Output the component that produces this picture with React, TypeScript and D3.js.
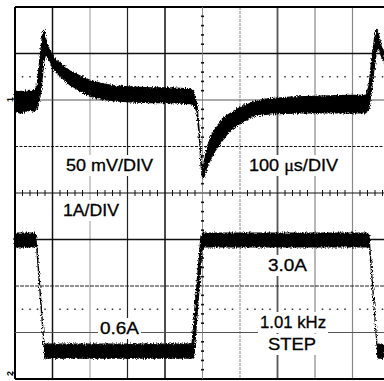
import React from "react";
import * as d3 from "d3";

const W = 384;
const H = 381;

// Time base: 100 µs per division, 10 divisions across the graticule
const timeTicksUs = d3.range(0, 1001, 100);
// Vertical graticule: 8 divisions
const vertDivs = d3.range(0, 9);

// Channel 1: output voltage deviation (AC), 50 mV/div — upper and lower edges of the noisy trace [µs, mV]
const vUpper: [number, number][] = [
  [0, 7.5], [10, 8.8], [20, 7.9], [27, 8.6], [38, 9.2], [51, 8.6], [59, 14], [67, 46], [72, 65], [77, 75],
  [83, 63], [88, 56], [99, 47], [109, 42], [125, 37], [147, 30], [173, 25], [200, 20],
  [227, 17], [267, 14], [307, 13], [360, 12], [413, 12], [467, 11], [477, 7.5],
  [485, -5], [491, -33], [496, -66], [500, -80], [504, -69], [512, -52], [525, -38],
  [541, -28], [560, -19], [587, -12], [627, -4], [667, 0], [733, 2], [813, 3],
  [893, 4], [936, 4], [944, 14], [952, 45], [960, 68], [965, 75], [971, 67],
  [976, 58], [984, 51],
];
const vLower: [number, number][] = [
  [0, -13], [12, -15], [27, -14], [40, -12], [51, -13], [59, -11], [67, 3], [72, 20], [77, 42],
  [83, 49], [88, 44], [99, 35], [109, 29], [125, 23], [147, 15], [173, 9], [200, 3],
  [227, 0], [267, -2], [307, -3], [360, -4], [413, -4], [467, -5], [477, -6],
  [485, -14], [491, -39], [496, -71], [500, -85], [504, -84], [515, -70], [533, -56],
  [552, -45], [573, -34], [600, -26], [640, -18], [680, -16], [760, -15], [867, -15],
  [936, -15], [944, -10], [952, 15], [960, 40], [965, 53], [971, 55], [976, 47],
  [984, 40],
];

// Channel 2: load current, 1 A/div — upper and lower edges of the trace [µs, A]
const iUpper: [number, number][] = [
  [0, 3.14], [53, 3.14], [56, 3.03], [77, 0.73], [83, 0.75], [472, 0.75],
  [496, 3.08], [501, 3.14], [941, 3.14], [944, 3.08], [965, 0.73], [971, 0.75], [984, 0.75],
];
const iLower: [number, number][] = [
  [0, 2.84], [57, 2.84], [59, 2.78], [80, 0.45], [472, 0.45], [477, 0.49],
  [499, 2.8], [501, 2.84], [944, 2.84], [946, 2.78], [968, 0.45], [984, 0.45],
];

const ch1RefMv = 0;
const ch2RefA = 0;

// Annotation texts
const voltScale = "50 mV/DIV";
const currentScale = "1A/DIV";
const timeScalePrefix = "100 ";
const timeScaleUnit = "μ";
const timeScaleSuffix = "s/DIV";
const highLevel = "3.0A";
const lowLevel = "0.6A";
const stepFreq = "1.01 kHz";
const stepWord = "STEP";

const x = d3.scaleLinear().domain([0, 1000]).range([15, 390]);
const yDiv = d3.scaleLinear().domain([0, 8]).range([7, 379]);
const yV = d3.scaleLinear().domain([0, 50]).range([99, 52.5]);
const yI = d3.scaleLinear().domain([0, 1]).range([379, 332.5]);

const vGridStyle = [
  { stroke: "#000", w: 2, dash: "" },
  { stroke: "#111", w: 1.5, dash: "" },
  { stroke: "#999", w: 1, dash: "" },
  { stroke: "#222", w: 1.2, dash: "" },
  { stroke: "#111", w: 1.5, dash: "" },
  null,
  { stroke: "#888", w: 1, dash: "3 1" },
  { stroke: "#555", w: 1.8, dash: "" },
  { stroke: "#888", w: 1.2, dash: "" },
  { stroke: "#888", w: 1.2, dash: "" },
  { stroke: "#000", w: 2, dash: "" },
];
const hGridStyle = [
  { stroke: "#000", w: 2, dash: "" },
  { stroke: "#111", w: 1.5, dash: "" },
  { stroke: "#555", w: 1, dash: "" },
  { stroke: "#111", w: 1, dash: "3 1.5" },
  { stroke: "#111", w: 1, dash: "" },
  { stroke: "#111", w: 1.5, dash: "" },
  { stroke: "#222", w: 1, dash: "4 1" },
  { stroke: "#555", w: 1, dash: "" },
  { stroke: "#000", w: 2, dash: "" },
];

function band(upper: [number, number][], lower: [number, number][], ys: d3.ScaleLinear<number, number>) {
  const line = d3
    .line<[number, number]>()
    .x((d) => x(d[0]))
    .y((d) => ys(d[1]));
  return line([...upper, ...[...lower].reverse()]) + "Z";
}

const FONT = "'Liberation Sans', Arial, Helvetica, sans-serif";

function Label({ text, left, right, base, size = 17 }: { text: React.ReactNode; left: number; right: number; base: number; size?: number }) {
  return (
    <g>
      <rect x={left - 2} y={base - size + 1} width={right - left + 4} height={size + 4} fill="#fff" />
      <text
        x={left}
        y={base}
        fontFamily={FONT}
        fontSize={size}
        textLength={right - left}
        lengthAdjust="spacingAndGlyphs"
        fill="#000"
        stroke="#000"
        strokeWidth={0.3}
      >
        {text}
      </text>
    </g>
  );
}

export default function App() {
  const minorX = d3.range(0, 1001, 20).filter((t) => t % 100 !== 0);
  const minorY = d3.range(0, 8.01, 0.2).filter((d) => Math.abs(d - Math.round(d)) > 0.01);
  const cx = x(500);
  const cy = yDiv(4);

  return (
    <svg
      width={W}
      height={H}
      viewBox={`0 0 ${W} ${H}`}
      style={{ position: "absolute", left: 0, top: 0, background: "#fff" }}
    >
      <defs>
        <filter id="grain" x="-2%" y="-20%" width="104%" height="140%">
          <feTurbulence type="fractalNoise" baseFrequency="0.9 0.6" numOctaves="1" seed="7" result="n" />
          <feDisplacementMap in="SourceGraphic" in2="n" scale="5" xChannelSelector="R" yChannelSelector="G" />
        </filter>
        <clipPath id="screen">
          <rect x={0} y={0} width={W} height={H} />
        </clipPath>
      </defs>
      <rect x={0} y={0} width={W} height={H} fill="#fff" />

      {/* vertical graticule */}
      {timeTicksUs.map((t, i) => {
        const s = vGridStyle[i];
        if (!s) return null;
        return (
          <line key={`v${t}`} x1={x(t)} x2={x(t)} y1={yDiv(0)} y2={yDiv(8)} stroke={s.stroke} strokeWidth={s.w} strokeDasharray={s.dash || undefined} />
        );
      })}
      {/* horizontal graticule */}
      {vertDivs.map((d) => {
        const s = hGridStyle[d];
        return (
          <line key={`h${d}`} x1={x(0)} x2={W} y1={yDiv(d)} y2={yDiv(d)} stroke={s.stroke} strokeWidth={s.w} strokeDasharray={s.dash || undefined} />
        );
      })}

      {/* dotted reference rows */}
      {[1.5, 6.5].map((d) =>
        minorX.map((t) => (
          <rect key={`dot${d}-${t}`} x={x(t) - 0.75} y={yDiv(d) - 0.75} width={1.5} height={1.5} fill="#333" />
        ))
      )}

      {/* center axes with minor ticks */}
      <line x1={cx} x2={cx} y1={yDiv(0)} y2={yDiv(8)} stroke="#777" strokeWidth={0.8} />
      {minorY.map((d) => (
        <rect key={`cyt${d}`} x={cx - 1.5} y={yDiv(d) - 0.8} width={3} height={1.6} fill="#111" />
      ))}
      {minorX.map((t) => (
        <line key={`cxt${t}`} x1={x(t)} x2={x(t)} y1={cy - 3} y2={cy + 3} stroke="#111" strokeWidth={1} />
      ))}

      {/* annotations */}
      <Label text={voltScale} left={66} right={153} base={171} />
      <Label
        text={
          <>
            {timeScalePrefix}
            <tspan fontFamily="'Liberation Serif', 'DejaVu Serif', serif">{timeScaleUnit}</tspan>
            {timeScaleSuffix}
          </>
        }
        left={249}
        right={338}
        base={171}
      />
      <Label text={currentScale} left={63} right={119} base={216} />
      <Label text={highLevel} left={268} right={307} base={271} />
      <Label text={lowLevel} left={100} right={139} base={334} />
      <Label text={stepFreq} left={260} right={326} base={328} />
      <Label text={stepWord} left={268} right={316} base={350} />

      {/* traces */}
      <g clipPath="url(#screen)">
        <path d={band(vUpper, vLower, yV)} fill="#000" stroke="#000" strokeWidth={1.2} strokeLinejoin="round" filter="url(#grain)" />
        <path d={band(iUpper, iLower, yI)} fill="#000" stroke="#000" strokeWidth={1.2} strokeLinejoin="round" filter="url(#grain)" />
      </g>

      {/* channel ground markers */}
      <line x1={12} x2={15} y1={yV(ch1RefMv)} y2={yV(ch1RefMv)} stroke="#000" strokeWidth={1.2} />
      <text transform={`translate(13,${yV(ch1RefMv) + 3}) rotate(-90)`} fontFamily={FONT} fontSize={9} fontWeight="bold">
        1
      </text>
      <line x1={12} x2={15} y1={yI(ch2RefA) - 6} y2={yI(ch2RefA) - 6} stroke="#000" strokeWidth={1.2} />
      <text transform={`translate(13,${yI(ch2RefA) - 3}) rotate(-90)`} fontFamily={FONT} fontSize={9} fontWeight="bold">
        2
      </text>
    </svg>
  );
}
